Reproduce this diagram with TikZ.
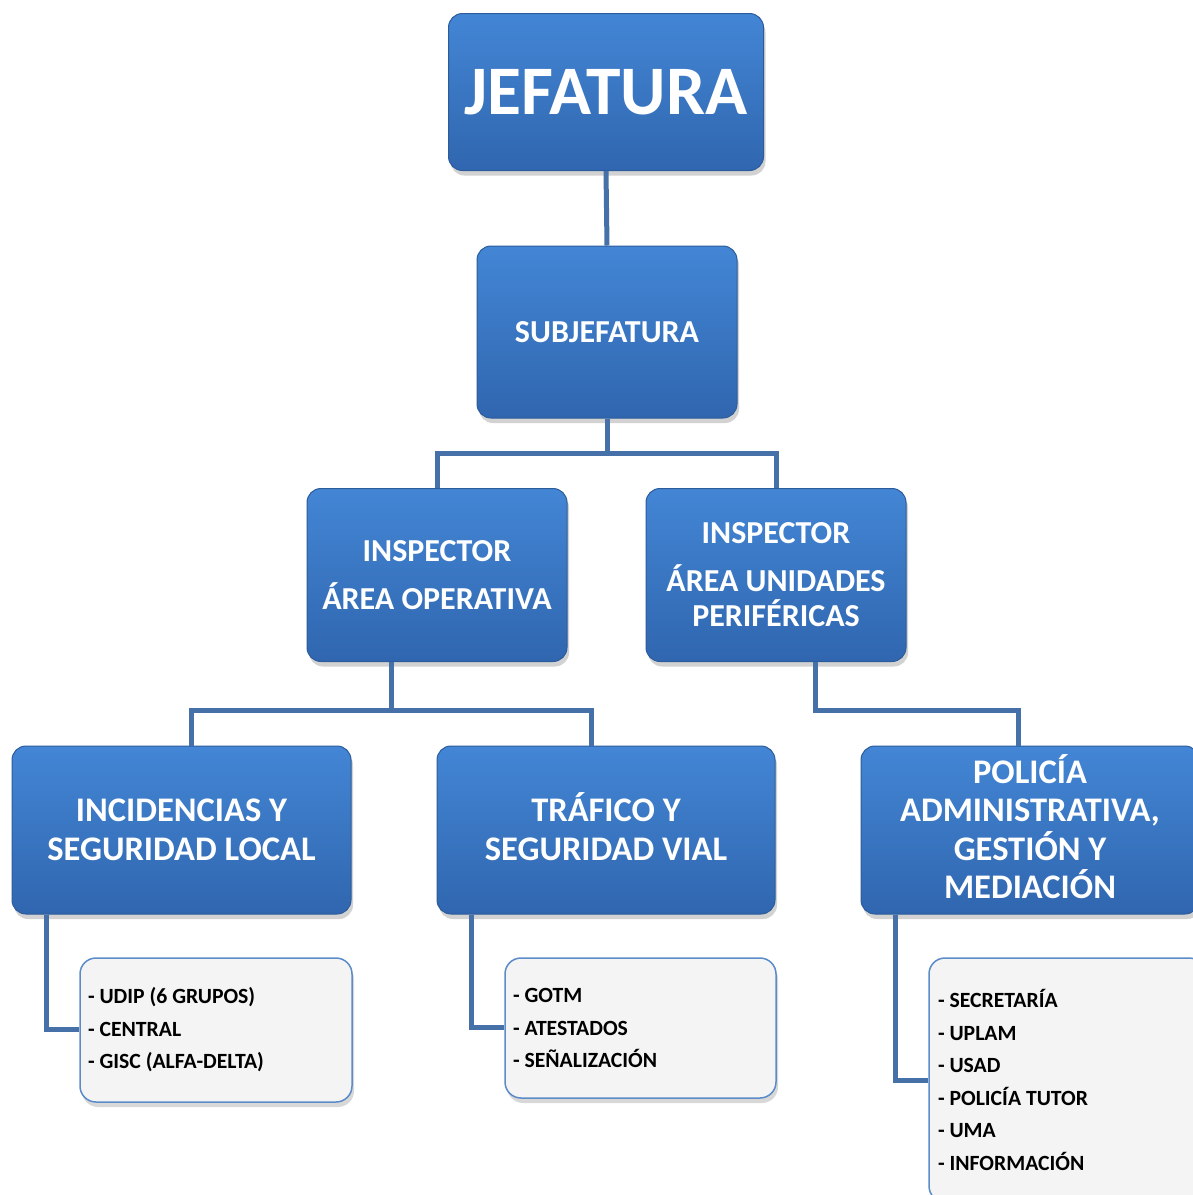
\documentclass[tikz,border=0pt]{standalone}
\usepackage{fontspec}
\setmainfont{Carlito}
\usetikzlibrary{shadows}
\definecolor{boxtop}{HTML}{4386D5}
\definecolor{boxbot}{HTML}{3066AF}
\definecolor{boxline}{HTML}{2D5C9B}
\definecolor{linkblue}{HTML}{4571A8}
\definecolor{listfill}{HTML}{F4F4F4}
\definecolor{listline}{HTML}{5B8CC8}
% line whose accents do not push it down
\newcommand{\capline}[1]{\raisebox{0pt}[\fontcharht\font`I]{#1}}
\begin{document}
\begin{tikzpicture}[x=1pt, y=-1pt,
	unitbox/.style={draw=boxline, line width=1pt, rounded corners=14pt,
		top color=boxtop, bottom color=boxbot, text=white, align=center,
		inner sep=0pt, font=\bfseries\fontsize{34.5}{39}\selectfont,
		drop shadow={opacity=.35, shadow xshift=2pt, shadow yshift=-5pt}},
	listbox/.style={draw=listline, line width=1.5pt, rounded corners=16pt,
		fill=listfill, align=flush left, inner xsep=8pt, inner ysep=0pt,
		font=\bfseries\fontsize{21.7}{32.5}\selectfont,
		drop shadow={opacity=.3, shadow xshift=2pt, shadow yshift=-5pt}},
	link/.style={draw=linkblue, line width=5pt}]
	\useasboundingbox[fill=white] (0,0) rectangle (1193,1195);
	\clip (0,0) rectangle (1193,1195);
	% boxes
	\node[unitbox, minimum width=315pt, minimum height=157pt,
		font=\bfseries\fontsize{69.5}{80}\selectfont] (jef) at (606,92) {JEFATURA};
	\node[unitbox, minimum width=260pt, minimum height=172pt,
		font=\bfseries\fontsize{32}{36}\selectfont] (sub) at (607,332) {SUBJEFATURA};
	\node[unitbox, minimum width=260pt, minimum height=173pt,
		font=\bfseries\fontsize{32}{36}\selectfont] (insop) at (437,575) {INSPECTOR\\[12pt] ÁREA OPERATIVA};
	\node[unitbox, minimum width=260pt, minimum height=173pt,
		font=\bfseries\fontsize{32}{35}\selectfont] (insup) at (776,575) {INSPECTOR\\[13pt] ÁREA UNIDADES\\ PERIFÉRICAS};
	\node[unitbox, minimum width=339pt, minimum height=168pt] (inc) at (181.5,830) {INCIDENCIAS Y\\ SEGURIDAD LOCAL};
	\node[unitbox, minimum width=338pt, minimum height=168pt] (tra) at (606,830) {\capline{TRÁFICO Y}\\ SEGURIDAD VIAL};
	\node[unitbox, minimum width=338pt, minimum height=168pt,
		font=\bfseries\fontsize{34.5}{38.5}\selectfont] (pol) at (1030,830)
		{\capline{POLICÍA}\\ ADMINISTRATIVA,\\ \capline{GESTIÓN Y}\\ \capline{MEDIACIÓN}};
	% lists
	\node[listbox, minimum width=272pt, minimum height=144pt, text width=256pt] (lst1) at (216,1030)
		{- UDIP (6 GRUPOS)\\ - CENTRAL\\ - GISC (ALFA-DELTA)};
	\node[listbox, minimum width=271pt, minimum height=140pt, text width=255pt] (lst2) at (640.5,1028)
		{- GOTM\\ - ATESTADOS\\ - SEÑALIZACIÓN};
	\node[listbox, minimum width=276pt, minimum height=244pt, text width=258pt, inner xsep=9pt] (lst3) at (1067,1080)
		{- SECRETARÍA\\ - UPLAM\\ - USAD\\ - POLICÍA TUTOR\\ - UMA\\ - INFORMACIÓN};
	% connectors
	\coordinate (b1) at (607,453);
	\coordinate (b2) at (391,710);
	\coordinate (b2l) at (191,710);
	\coordinate (b2r) at (591,710);
	\coordinate (b3l) at (815,710);
	\coordinate (b3r) at (1018,710);
	\coordinate (c1) at (46,1029);
	\coordinate (c2) at (471,1027);
	\coordinate (c3) at (895,1080);
	\draw[link] (jef.south) -- (sub.north);
	\draw[link] (sub.south) -- (b1);
	\draw[link] (insop.north) |- (b1) -| (insup.north);
	\draw[link] (insop.south -| b2) -- (b2);
	\draw[link] (inc.north -| b2l) -- (b2l) -- (b2r) -- (tra.north -| b2r);
	\draw[link] (insup.south -| b3l) -- (b3l) -- (b3r) -- (pol.north -| b3r);
	\draw[link] (inc.south -| c1) -- (c1) -- (lst1.west |- c1);
	\draw[link] (tra.south -| c2) -- (c2) -- (lst2.west |- c2);
	\draw[link] (pol.south -| c3) -- (c3) -- (lst3.west |- c3);
\end{tikzpicture}
\end{document}
